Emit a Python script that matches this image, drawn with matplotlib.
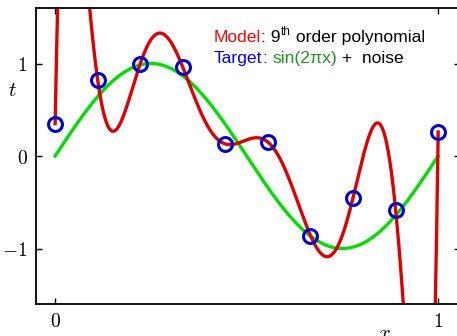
import numpy as np
import matplotlib
matplotlib.use("Agg")
import matplotlib.pyplot as plt

plt.rcParams["mathtext.fontset"] = "cm"

# ----------------------------
# DATA
# ----------------------------
x_points = np.linspace(0, 1, 10)
t_points = [0.35, 0.82, 1.00, 0.96, 0.13, 0.15, -0.86, -0.45, -0.58, 0.26]

x_ticks = [0, 1]
x_tick_labels = ["$0$", "$1$"]
y_ticks = [-1, 0, 1]
y_tick_labels = [r"$-1$", "$0$", "$1$"]

# fitted curves
x_fine = np.linspace(0, 1, 1000)
coef = np.polyfit(x_points, t_points, 9)
model = np.polyval(coef, x_fine)
target = np.sin(2 * np.pi * x_fine)

# ----------------------------
# PLOT
# ----------------------------
fig = plt.figure(figsize=(4.57, 3.36), dpi=100)
ax = fig.add_axes([36 / 457, 32 / 336, 424 / 457, 296 / 336])

ax.plot(x_fine, target, color="#00e000", lw=2.4)
ax.plot(x_fine, model, color="#e00000", lw=2.4)
ax.plot(x_points, t_points, "o", ms=10, mfc="none", mec="#0000d0", mew=2.2)

ax.set_xlim(-0.05, 1.057)
ax.set_ylim(-1.6, 1.6)
ax.set_xticks(x_ticks)
ax.set_xticklabels(x_tick_labels, fontsize=14)
ax.set_yticks(y_ticks)
ax.set_yticklabels(y_tick_labels, fontsize=14)
ax.tick_params(direction="in", length=4, width=1, top=True, right=True, pad=6)
for s in ax.spines.values():
    s.set_linewidth(1.3)

ax.set_xlabel("$x$", fontsize=15)
ax.xaxis.set_label_coords(349 / 424, -0.065)
ax.set_ylabel("$t$", fontsize=15, rotation=0)
ax.yaxis.set_label_coords(-24 / 424, 0.69)

# ----------------------------
# LEGEND TEXT
# ----------------------------
fs = 12.6
fam = "Liberation Sans"
t1 = ax.text(0.420, 0.885, "Model", color="red", fontsize=fs, family=fam,
             transform=ax.transAxes)
t2 = ax.annotate(": 9", xycoords=t1, xy=(1, 0), va="bottom",
                 fontsize=fs, family=fam, color="black")
t3 = ax.annotate("th", xycoords=t2, xy=(1, 0.45), va="bottom",
                 fontsize=8.5, family=fam, color="black")
ax.annotate(" order polynomial", xycoords=t2, xy=(1, 0), va="bottom",
            xytext=(t3.get_window_extent(fig.canvas.get_renderer()).width * 0.72, 0),
            textcoords="offset points", fontsize=fs, family=fam, color="black")

u1 = ax.text(0.420, 0.813, "Target", color="blue", fontsize=fs, family=fam,
             transform=ax.transAxes)
u2 = ax.annotate(": ", xycoords=u1, xy=(1, 0), va="bottom",
                 fontsize=fs, family=fam, color="black")
u3 = ax.annotate("sin(2\u03c0x)", xycoords=u2, xy=(1, 0), va="bottom",
                 fontsize=fs, family=fam, color="#1a9a1a")
ax.annotate(" +  noise", xycoords=u3, xy=(1, 0), va="bottom",
            fontsize=fs, family=fam, color="black")

plt.savefig("out.png", dpi=100)
